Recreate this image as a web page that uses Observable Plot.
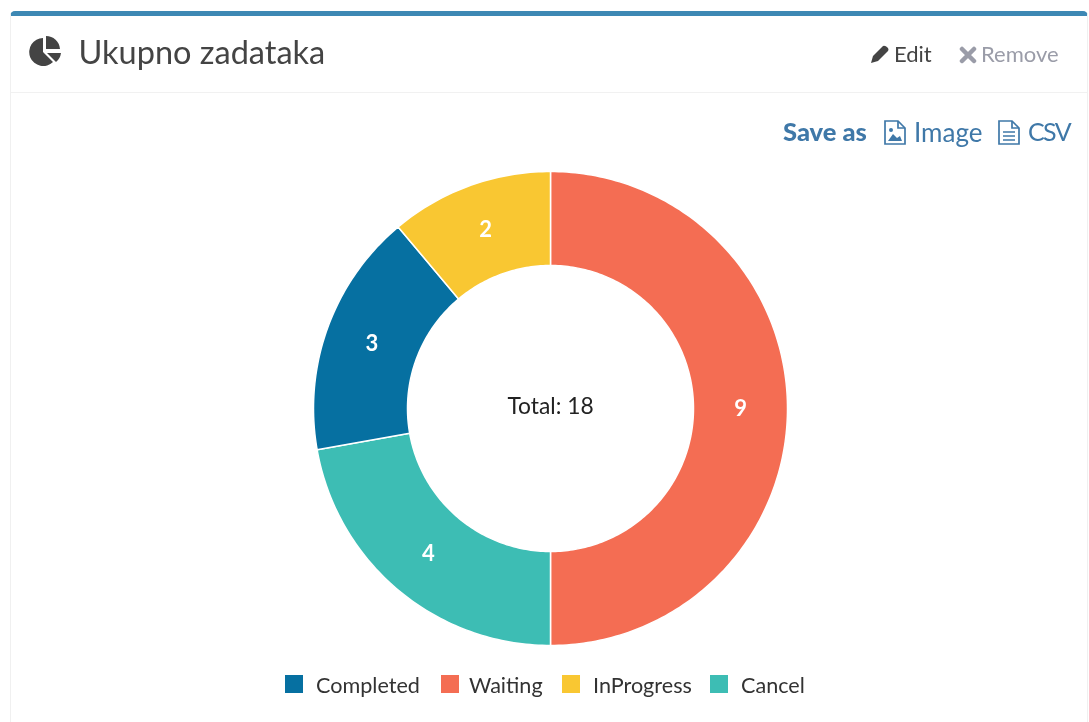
<!DOCTYPE html>
<html><head><meta charset="utf-8">
<script src="https://cdn.jsdelivr.net/npm/d3@7"></script>
<script src="https://cdn.jsdelivr.net/npm/@observablehq/plot@0.6"></script>
<style>
html,body{margin:0;padding:0;background:#fff;width:1089px;height:722px;overflow:hidden;font-family:Lato,"Noto Sans",sans-serif;}
#page{position:absolute;left:0;top:0;width:1089px;height:722px;filter:blur(0.45px);}
#panel{position:absolute;left:10px;top:11px;width:1078px;height:720px;border-top:5px solid #3d88b4;border-left:1px solid #f0f0f0;border-right:1px solid #f0f0f0;border-radius:5px 5px 0 0;box-sizing:border-box;}
#rule{position:absolute;left:11px;top:92px;width:1076px;height:1px;background:#f1f1f1;}
.t{position:absolute;white-space:nowrap;line-height:1;}
svg.i{position:absolute;}
#chart{position:absolute;left:0;top:100px;}
.sw{position:absolute;top:675px;width:18px;height:18px;}
.lg{position:absolute;top:675px;font-size:21.6px;color:#333;white-space:nowrap;line-height:21px;}
</style></head><body>
<div id="page">
<div id="panel"></div><div id="rule"></div>
<svg class="i" style="left:28px;top:34px" width="34" height="34" viewBox="0 0 34 34">
<path d="M15 4A14 14 0 1 0 25 28L15 18Z" fill="#444"/><path d="M18 2A14 14 0 0 1 32 15H18Z" fill="#444"/><path d="M19 19H33A14 14 0 0 1 28 28Z" fill="#444"/></svg>
<div class="t" id="title" style="left:78.5px;top:36px;font-size:32.5px;color:#444">Ukupno zadataka</div>
<svg class="i" style="left:870px;top:44px" width="20" height="20" viewBox="0 0 20 20"><path d="M1 19L3 12L13 2Q15 1 18 4Q19 6 18 7L8 17Z" fill="#444"/></svg>
<div class="t" style="left:894px;top:43px;font-size:22px;color:#444">Edit</div>
<svg class="i" style="left:959px;top:46px" width="18" height="18" viewBox="0 0 18 18"><path d="M3 3L15 15M15 3L3 15" stroke="#9a9ca8" stroke-width="4.5" stroke-linecap="round"/></svg>
<div class="t" style="left:981px;top:43px;font-size:22px;color:#9a9ca8">Remove</div>
<div class="t" style="left:783px;top:119px;font-size:25.5px;font-weight:900;color:#3f78a8">Save as</div>
<svg class="i" style="left:883px;top:119px" width="24" height="27" viewBox="0 0 24 27" fill="none" stroke="#3f78a8" stroke-width="1.7"><path d="M2 2H15L22 9V25H2Z"/><path d="M15 2V9H22"/><path d="M5 22L10 15L14 19L17 17L19 22Z" fill="#3f78a8" stroke="none"/><circle cx="8" cy="11" r="2" fill="#3f78a8" stroke="none"/></svg>
<div class="t" style="left:914px;top:119px;font-size:26px;color:#3f78a8">Image</div>
<svg class="i" style="left:997px;top:119px" width="24" height="27" viewBox="0 0 24 27" fill="none" stroke="#3f78a8" stroke-width="1.7"><path d="M2 2H15L22 9V25H2Z"/><path d="M15 2V9H22"/><path d="M6 13H18M6 17H18M6 21H18"/></svg>
<div class="t" style="left:1028px;top:119px;font-size:25px;letter-spacing:-1.6px;color:#3f78a8">CSV</div>
<div id="chart"></div>
</div>
<script>
const categories = ["Completed","Waiting","InProgress","Cancel"];
const colors = ["#0670a1","#f46d53","#f9c732","#3dbdb4"];
const sliceOrder = ["Waiting","Cancel","Completed","InProgress"];
const sliceValues = [9,4,3,2];
const centerLabel = "Total: 18";
const legendX = [285,441,562,710];
const legendTextX = [316,469,593,741];

const holeRatio = 143/237;
const total = d3.sum(sliceValues);
const pts = [], labels = [];
let cum = 0;
sliceOrder.forEach((name,i)=>{
  const a0 = cum/total*2*Math.PI, a1 = (cum+sliceValues[i])/total*2*Math.PI;
  const n = Math.max(2,Math.ceil((a1-a0)/(Math.PI/180)));
  const ring = [];
  for(let k=0;k<=n;k++){const a=a0+(a1-a0)*k/n;ring.push({slice:name,x:Math.sin(a),y:Math.cos(a)});}
  for(let k=n;k>=0;k--){const a=a0+(a1-a0)*k/n;ring.push({slice:name,x:holeRatio*Math.sin(a),y:holeRatio*Math.cos(a)});}
  ring.push(ring[0]);
  pts.push(...ring);
  const m=(a0+a1)/2,r=(1+holeRatio)/2;
  labels.push({value:sliceValues[i],x:r*Math.sin(m),y:r*Math.cos(m)});
  cum+=sliceValues[i];
});

const plot = Plot.plot({
  width:1089,height:570,margin:0,
  x:{domain:[-1,1],range:[313,787],axis:null},
  y:{domain:[-1,1],range:[545,71],axis:null},
  color:{domain:categories,range:colors},
  marks:[
    Plot.line(pts,{x:"x",y:"y",z:"slice",fill:"slice",stroke:"#fff",strokeWidth:1.5,curve:"linear"}),
    Plot.text(labels,{x:"x",y:"y",text:"value",fill:"#fff",fontSize:22,fontWeight:700,fontFamily:"Lato"}),
    Plot.text([centerLabel],{x:[0],y:[0],dy:-2,fill:"#222",fontSize:22.8,fontFamily:"Lato"})
  ]
});
document.getElementById("chart").appendChild(plot);
const page=document.getElementById("page");
categories.forEach((c,i)=>{
  const s=document.createElement("div");s.className="sw";s.style.left=legendX[i]+"px";s.style.background=colors[i];page.appendChild(s);
  const t=document.createElement("div");t.className="lg";t.style.left=legendTextX[i]+"px";t.textContent=c;page.appendChild(t);
});
</script>
</body></html>
